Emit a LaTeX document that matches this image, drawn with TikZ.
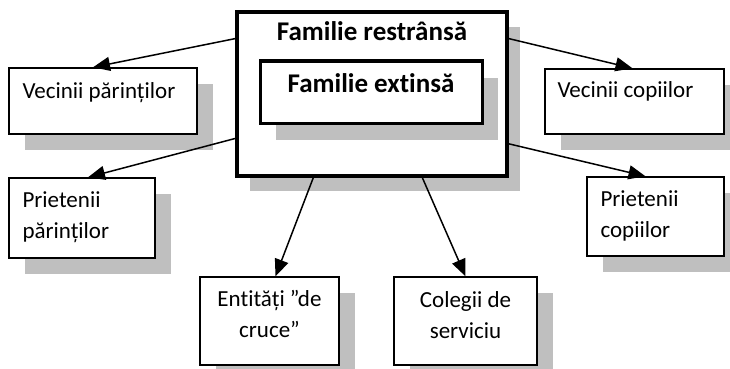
\documentclass[tikz,border=0pt]{standalone}
\usepackage{fontspec}
\setmainfont{Carlito}[Ligatures=NoCommon]
\usetikzlibrary{arrows.meta,shadows}

\begin{document}
\begin{tikzpicture}[x=1pt,y=-1pt,
    shade/.style 2 args={drop shadow={shadow xshift=#1,shadow yshift=-#2,fill=black!25,opacity=1}},
    box/.style={draw,fill=white,inner sep=0pt,line width=1.4pt,shade={16pt}{16pt}},
    frame/.style={draw,fill=white,inner sep=0pt},
    txt/.style={inner sep=0pt,font=\fontsize{23}{31}\selectfont},
    head/.style={inner sep=0pt,font=\fontsize{27}{31}\selectfont\bfseries},
    link/.style={line width=1.5pt,-{Triangle[length=17pt,width=14pt]}}]
    \useasboundingbox (0,0) rectangle (730,369);
    % the two families, one inside the other
    \node[frame,line width=4pt,minimum width=270pt,minimum height=164pt,shade={13pt}{15pt}] (fr) at (372,94) {};
    \node[frame,line width=3pt,minimum width=222pt,minimum height=62pt,shade={16pt}{17pt}] (fe) at (371,92) {};
    \node[head,anchor=base] (frt) at ([yshift=-31pt]fr.north) {Familie restrânsă};
    \node[head,anchor=base] (fet) at ([yshift=-33pt]fe.north) {Familie extinsă};
    % outer circle
    \node[box,minimum width=188pt,minimum height=66pt] (vp) at (103,101) {};
    \node[box,minimum width=146pt,minimum height=80pt] (pp) at (82,218) {};
    \node[box,minimum width=179pt,minimum height=65pt] (vc) at (634.5,101.5) {};
    \node[box,minimum width=137pt,minimum height=79pt] (pc) at (655.5,216.5) {};
    \node[box,minimum width=139pt,minimum height=88pt] (en) at (269.5,321) {};
    \node[box,minimum width=143pt,minimum height=88pt] (cs) at (465.5,321) {};
    \node[txt,anchor=base west] (vpt) at ([xshift=14pt,yshift=-31pt]vp.north west) {Vecinii părinților};
    \node[txt,anchor=base west,align=left] (ppt) at ([xshift=14pt,yshift=-61pt]pp.north west) {Prietenii\\părinților};
    \node[txt,anchor=base west] (vct) at ([xshift=13pt,yshift=-29pt]vc.north west) {Vecinii copiilor};
    \node[txt,anchor=base west,align=left] (pct) at ([xshift=14pt,yshift=-61pt]pc.north west) {Prietenii\\copiilor};
    \node[txt,anchor=base,align=center] (ent) at ([yshift=-61pt]en.north) {Entități ”de\\cruce”};
    \node[txt,anchor=base,align=center] (cst) at ([yshift=-62pt]cs.north) {Colegii de\\serviciu};
    % arrows
    \draw[link] (fr.158.6) -- ([xshift=-10pt]vp.north);
    \draw[link] (fr.198.8) -- ([xshift=6pt]pp.north);
    \draw[link] (fr.22.9) -- ([xshift=-2pt]vc.north);
    \draw[link] (fr.340.4) -- ([xshift=-10pt]pc.north);
    \draw[link] (fr.235.2) -- ([xshift=6pt]en.north);
    \draw[link] (fr.301.9) -- (cs.north);
\end{tikzpicture}
\end{document}
